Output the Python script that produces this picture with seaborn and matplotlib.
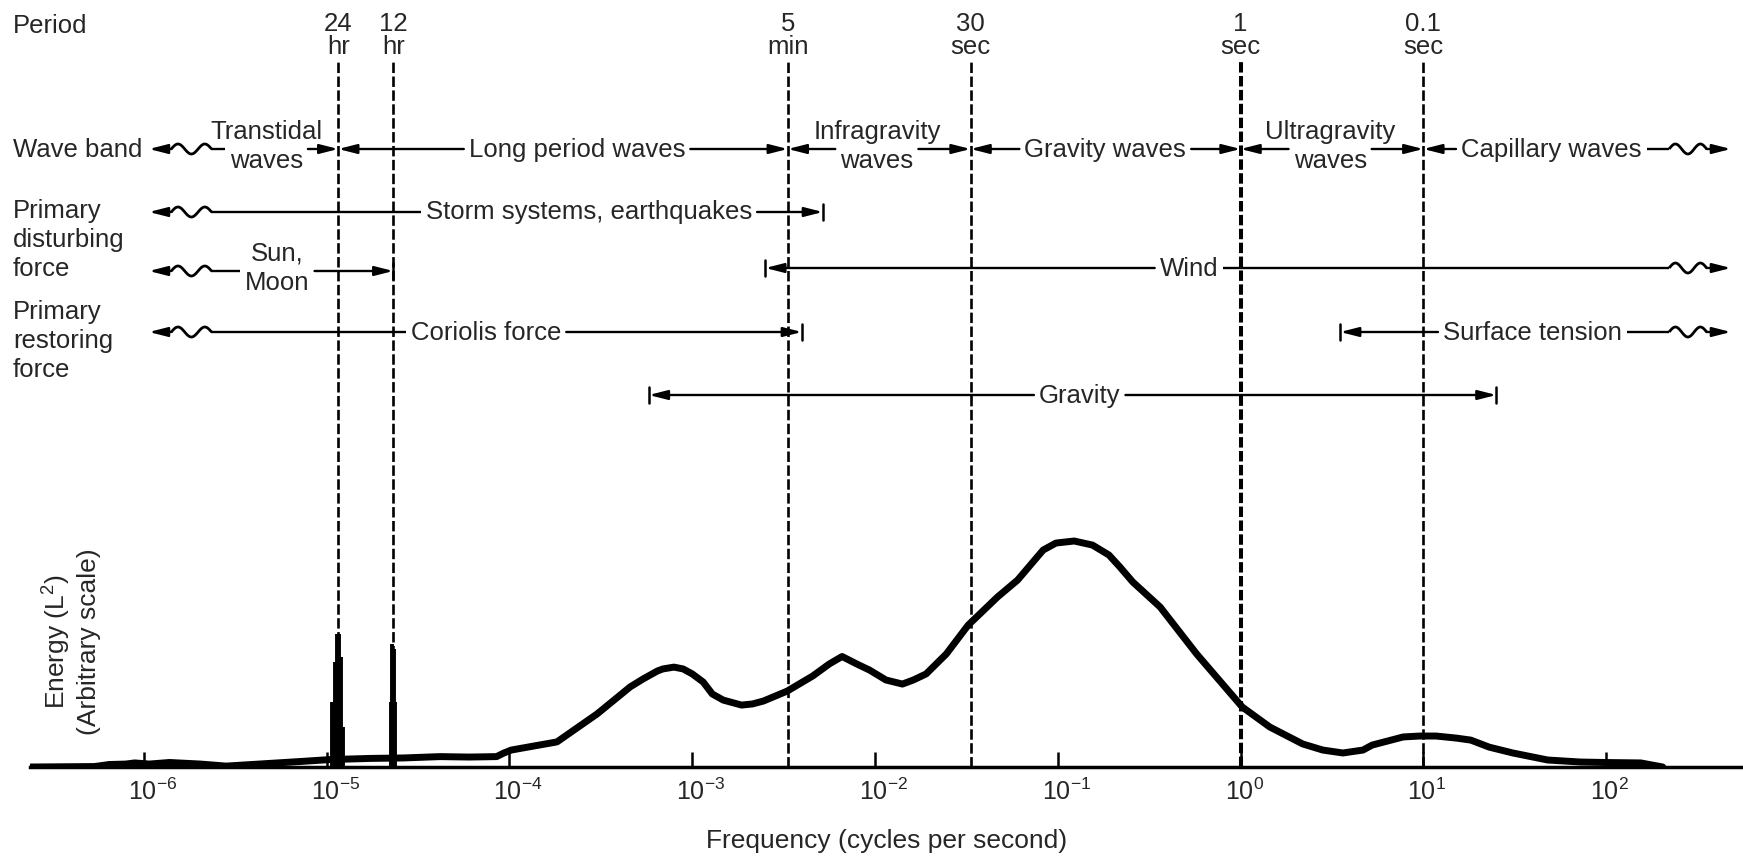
import numpy as np
import pandas as pd
import matplotlib
matplotlib.use("Agg")
import matplotlib.pyplot as plt
import matplotlib.transforms as mtransforms
from matplotlib.patches import ArrowStyle
from matplotlib.ticker import NullLocator
import seaborn as sns

# ---------------- data ----------------
# energy spectrum: log10(frequency / Hz) and energy (arbitrary units, main peak = 100)
log_freq = [-6.62, -6.27, -6.19, -6.10, -6.05, -5.97, -5.86, -5.69, -5.55, -5.37, -5.15, -4.98,
            -4.76, -4.58, -4.38, -4.22, -4.07, -4.03, -3.99, -3.74, -3.52, -3.34, -3.27, -3.19,
            -3.16, -3.10, -3.05, -3.00, -2.94, -2.89, -2.83, -2.73, -2.67, -2.61, -2.48, -2.34,
            -2.25, -2.18, -2.10, -2.03, -1.94, -1.85, -1.79, -1.72, -1.61, -1.49, -1.33, -1.22,
            -1.08, -1.01, -0.91, -0.81, -0.72, -0.66, -0.59, -0.44, -0.24, 0.01, 0.16, 0.34,
            0.45, 0.56, 0.67, 0.72, 0.89, 0.98, 1.07, 1.18, 1.26, 1.36, 1.49, 1.68, 1.86, 1.99,
            2.19, 2.31]
energy = [0.0, 0.2, 1.1, 1.3, 1.8, 1.3, 2.0, 1.3, 0.4, 1.3, 2.4, 3.3,
          3.8, 4.0, 4.6, 4.4, 4.6, 6.2, 7.5, 11.1, 23.5, 35.4, 38.9, 42.5,
          43.4, 44.2, 43.4, 41.2, 37.6, 32.3, 29.6, 27.4, 27.9, 29.2, 33.6, 40.3,
          45.6, 48.9, 45.6, 42.9, 38.5, 36.7, 38.5, 41.2, 50.0, 62.8, 75.2, 82.7,
          96.0, 99.1, 100.0, 98.2, 93.8, 88.5, 81.9, 70.8, 50.0, 26.5, 17.7, 10.2,
          7.5, 6.2, 7.5, 9.7, 13.3, 13.7, 13.7, 12.8, 11.9, 8.8, 6.2, 3.1, 2.2, 2.0,
          1.8, 0.0]

# tidal line spectra (diurnal and semidiurnal)
tide_24_log = [-4.968, -4.955, -4.944, -4.934, -4.922, -4.908]
tide_24_energy = [28.8, 46.5, 58.8, 58.8, 48.7, 17.7]
tide_12_log = [-4.648, -4.640, -4.632, -4.624]
tide_12_energy = [28.8, 54.4, 52.0, 28.8]

# period markers
period_seconds = [86400, 43200, 300, 30, 1, 0.1]
period_top = ["24", "12", "5", "30", "1", "0.1"]
period_bottom = ["hr", "hr", "min", "sec", "sec", "sec"]

tick_exponents = [-6, -5, -4, -3, -2, -1, 0, 1, 2]

# wave bands (edges given as periods in seconds; None = open ended)
wave_band_labels = ["Transtidal\nwaves", "Long period waves", "Infragravity\nwaves",
                    "Gravity waves", "Ultragravity\nwaves", "Capillary waves"]
wave_band_edges = [None, 86400, 300, 30, 1, 0.1, None]
wave_band_label_log = [-5.33, -3.63, -1.99, -0.74, 0.49, 1.70]

# forces: low / high limits as log10(f); None = open ended
force_labels = ["Storm systems, earthquakes", "Sun,\nMoon", "Wind",
                "Coriolis force", "Surface tension", "Gravity"]
force_lo_log = [None, None, -2.60, None, 0.545, -3.237]
force_hi_log = [-2.285, np.log10(1 / 43200), None, -2.40, None, 1.40]
force_label_log = [-3.565, -5.27, -0.282, -4.128, 1.597, -0.88]

row_labels = ["Period", "Wave band", "Primary\ndisturbing\nforce", "Primary\nrestoring\nforce"]

# ---------------- style / layout ----------------
sns.set_theme(style="white")
plt.rcParams["font.family"] = ["Liberation Sans", "DejaVu Sans"]
plt.rcParams["mathtext.default"] = "regular"
plt.rcParams["lines.scale_dashes"] = False

W, H = 1743, 858
fig = plt.figure(figsize=(W / 100, H / 100), dpi=100)
fig.patch.set_facecolor("white")
AX_L, AX_B = 30, 767
ax = fig.add_axes([AX_L / W, (H - AX_B) / H, (W - AX_L) / W, AX_B / H])
ax.set_xscale("log")

FS = 18.5
X_MIN_LOG, X_MAX_LOG = -6.623, 2.749
ENERGY_TOP = 339.4

# spectrum curve
df = pd.DataFrame({"frequency": 10.0 ** np.array(log_freq), "energy": energy})
sns.lineplot(data=df, x="frequency", y="energy", sort=False, estimator=None,
             color="black", linewidth=5.0, ax=ax, zorder=4, solid_joinstyle="round")
ax.vlines(10.0 ** np.array(tide_24_log), 0, tide_24_energy, colors="black", lw=2.8, zorder=4)
ax.vlines(10.0 ** np.array(tide_12_log), 0, tide_12_energy, colors="black", lw=2.8, zorder=4)

ax.set_xlim(10 ** X_MIN_LOG, 10 ** X_MAX_LOG)
ax.set_ylim(0, ENERGY_TOP)
ax.set_autoscale_on(False)

# transforms: pixel rows measured from top of the figure
px = mtransforms.Affine2D().scale(1, -1).translate(0, H)
blend = mtransforms.blended_transform_factory(ax.transData, px)

# period dashed lines + labels
DASH_TOP = 60
for p, t1, t2 in zip(period_seconds, period_top, period_bottom):
    lw = 2.9 if p == 1 else 1.9
    ax.axvline(1.0 / p, ymin=0, ymax=(AX_B - DASH_TOP) / AX_B, color="black", lw=lw,
               ls=(0, (7.5, 2.5)), zorder=2)
    ax.text(1.0 / p, 31, t1, transform=blend, ha="center", va="baseline", fontsize=FS)
    ax.text(1.0 / p, 54, t2, transform=blend, ha="center", va="baseline", fontsize=FS)

# left row labels
left_baselines = [[32.7], [156.7], [218.3, 246.7, 276.0], [319.3, 347.7, 376.7]]
for lab, bls in zip(row_labels, left_baselines):
    for s, b in zip(lab.split("\n"), bls):
        ax.text(13, b, s, transform=px, ha="left", va="baseline", fontsize=FS)

# axis styling
sns.despine(ax=ax, left=True)
ax.spines["bottom"].set_linewidth(2.5)
ax.spines["bottom"].set_color("black")
ax.set_yticks([])
ax.set_xticks(10.0 ** np.array(tick_exponents))
ax.set_xticklabels([f"$10^{{{e}}}$" for e in tick_exponents], fontsize=18, ha="left")
ax.xaxis.set_minor_locator(NullLocator())
ax.tick_params(axis="x", which="major", direction="in", length=11, width=1.8,
               color="black", pad=8.0, bottom=True)
shift = mtransforms.ScaledTranslation(-16 / 100, 0, fig.dpi_scale_trans)
for lab in ax.get_xticklabels():
    lab.set_transform(lab.get_transform() + shift)

ax.set_xlabel("Frequency (cycles per second)", fontsize=19)
ax.xaxis.set_label_coords(0.5, (AX_B - 848) / AX_B)
ax.xaxis.label.set_va("baseline")
ax.set_ylabel("Energy (L$^2$)\n(Arbitrary scale)", fontsize=19, linespacing=1.2)
ax.yaxis.set_label_coords((101 - AX_L) / (W - AX_L), (AX_B - 642) / AX_B)

# ---------------- band arrows ----------------
renderer = fig.canvas.get_renderer()
ppd = ax.transData.transform((10.0, 1.0))[0] - ax.transData.transform((1.0, 1.0))[0]
F_LEFT, F_RIGHT = -5.972, 2.683
SQ_LEFT = (-5.85, -5.63)
SQ_RIGHT = (2.345, 2.55)
GAP = 5
LW = 1.7
head = ArrowStyle("-|>", head_length=11, head_width=2.8)


def arrow(tail, tip, y):
    ax.annotate("", xy=(10 ** tip, y), xytext=(10 ** tail, y), xycoords=blend, textcoords=blend,
                arrowprops=dict(arrowstyle=head, lw=LW, color="black", shrinkA=0, shrinkB=0,
                                mutation_scale=1))


def hline(a, b, y):
    ax.plot([10 ** a, 10 ** b], [y, y], transform=blend, color="black", lw=LW,
            solid_capstyle="butt")


def endbar(xl, y):
    ax.plot([10 ** xl, 10 ** xl], [y - 8, y + 8], transform=blend, color="black", lw=1.8)


def squiggle(a, b, y):
    t = np.linspace(0, 1, 80)
    ax.plot(10 ** (a + (b - a) * t), y - 5.0 * np.sin(3 * np.pi * t), transform=blend,
            color="black", lw=2.0, solid_capstyle="butt")


def band(lo, hi, label_log, label, row, lo_kind, hi_kind):
    lines = label.split("\n")
    offs = [7.5] if len(lines) == 1 else [-10, 19.5]
    objs = [ax.text(10 ** label_log, row + o, s, transform=blend, ha="center", va="baseline",
                    fontsize=FS, zorder=5) for s, o in zip(lines, offs)]
    w = objs[-1].get_window_extent(renderer).width
    half = (w / 2 + GAP) / ppd
    tl, tr = label_log - half, label_log + half
    if lo_kind == "squig":
        hline(SQ_LEFT[1], tl, row)
        squiggle(SQ_LEFT[0], SQ_LEFT[1], row)
        arrow(SQ_LEFT[0], F_LEFT, row)
    else:
        arrow(tl, lo, row)
        if lo_kind == "bar":
            endbar(lo, row)
    if hi_kind == "squig":
        hline(tr, SQ_RIGHT[0], row)
        squiggle(SQ_RIGHT[0], SQ_RIGHT[1], row)
        arrow(SQ_RIGHT[1], F_RIGHT, row)
    else:
        arrow(tr, hi, row)
        if hi_kind == "bar":
            endbar(hi, row)


WAVE_ROW = 149
for i, (lab, lx) in enumerate(zip(wave_band_labels, wave_band_label_log)):
    pe_lo, pe_hi = wave_band_edges[i], wave_band_edges[i + 1]
    lo = None if pe_lo is None else np.log10(1.0 / pe_lo)
    hi = None if pe_hi is None else np.log10(1.0 / pe_hi)
    band(lo, hi, lx, lab, WAVE_ROW, "squig" if lo is None else "head",
         "squig" if hi is None else "head")

force_rows = [212, 271, 268, 332, 332, 395]
for lab, lo, hi, lx, row in zip(force_labels, force_lo_log, force_hi_log, force_label_log,
                                force_rows):
    band(lo, hi, lx, lab, row, "squig" if lo is None else "bar",
         "squig" if hi is None else "bar")

fig.savefig("out.png", dpi=100, facecolor="white")
